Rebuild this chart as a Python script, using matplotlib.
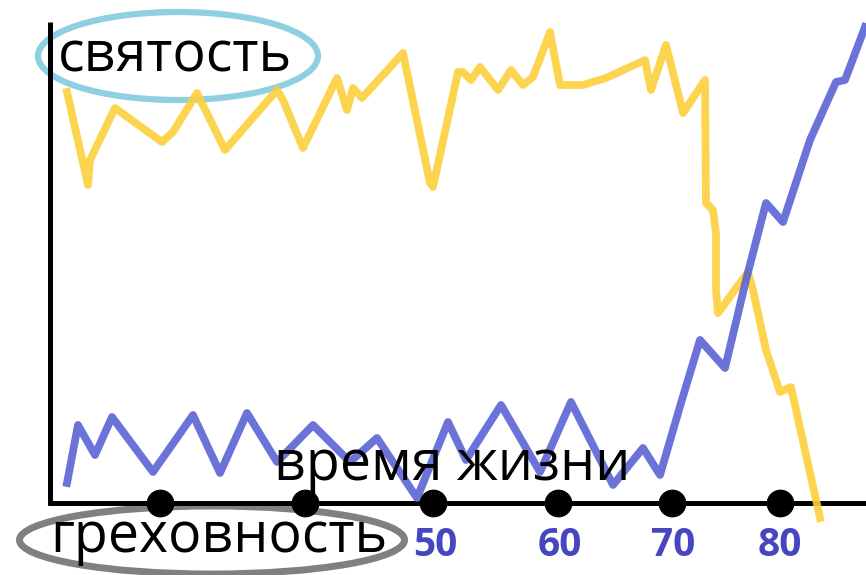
import matplotlib
matplotlib.use("Agg")
import matplotlib.pyplot as plt
from matplotlib.patches import Ellipse

# hand-drawn chart, coordinates (pixels, y grows downwards)
holy_x = [67, 88, 90, 115, 162, 173, 197, 225, 277, 283, 303, 337, 347, 353, 362, 403, 430,
          433, 458, 463, 471, 480, 498, 511, 523, 533, 550, 560, 583, 606, 645, 651, 666,
          683, 705, 706, 713, 716, 716, 718, 748, 753, 766, 780, 791, 820]
holy_y = [92, 185, 160, 108, 142, 132, 93, 150, 90, 100, 148, 78, 110, 88, 98, 53, 183,
          187, 72, 72, 80, 67, 90, 70, 85, 77, 32, 85, 85, 78, 60, 90, 45,
          113, 80, 203, 210, 233, 290, 313, 272, 290, 350, 392, 387, 518]

sin_x = [67, 78, 95, 112, 153, 193, 220, 247, 277, 313, 350, 377, 417, 448, 466, 501,
         540, 571, 613, 643, 660, 681, 700, 725, 746, 766, 783, 810, 836, 845, 865]
sin_y = [483, 425, 455, 417, 472, 415, 473, 413, 462, 425, 462, 438, 498, 422, 460, 405,
         472, 402, 485, 448, 475, 403, 340, 368, 280, 203, 222, 140, 82, 80, 27]

dot_x = [160, 305, 433, 558, 672, 780]
tick_labels = ["50", "60", "70", "80"]
tick_x = [435, 560, 673, 780]

fig = plt.figure(figsize=(8.66, 5.75), dpi=100)
ax = fig.add_axes([0, 0, 1, 1])
ax.set_xlim(0, 866)
ax.set_ylim(575, 0)
ax.axis("off")

# axes drawn by hand
ax.vlines(50, 22, 505, color="black", linewidth=3.6)
ax.hlines(503, 48, 866, color="black", linewidth=3.6)

ax.plot(holy_x, holy_y, color="#fdd03c", linewidth=5.6, alpha=0.9, solid_joinstyle="round")
ax.plot(sin_x, sin_y, color="#5660d4", linewidth=5.6, alpha=0.88, solid_joinstyle="round")

ax.scatter(dot_x, [503] * len(dot_x), s=360, color="black", zorder=5)

font = "Open Sans"
ax.text(175, 57, "святость", fontsize=40, family=font, ha="center", va="center")
ax.add_patch(Ellipse((178, 56), 280, 88, fill=False, edgecolor="#8ecfe0", linewidth=4.5))

ax.text(219, 538, "греховность", fontsize=40, family=font, ha="center", va="center")
ax.add_patch(Ellipse((212, 540), 385, 68, fill=False, edgecolor="#808080", linewidth=5))

ax.text(452, 466, "время жизни", fontsize=40, family=font, ha="center", va="center")

for lab, x in zip(tick_labels, tick_x):
    ax.text(x, 545, lab, fontsize=28, family=font, fontweight="bold", color="#4646c0",
            ha="center", va="center")

fig.savefig("out.png", dpi=100)
